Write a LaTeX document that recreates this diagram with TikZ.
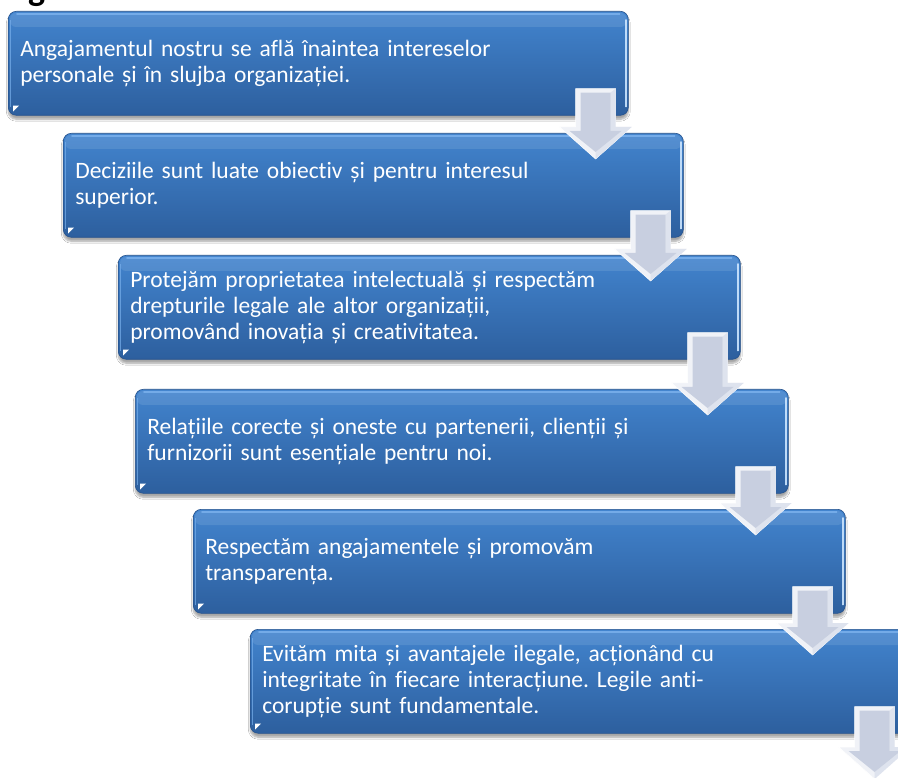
\documentclass[tikz,border=0pt]{standalone}
\usepackage{fontspec}
\setmainfont{Carlito}[Ligatures={NoCommon}]
\frenchspacing
\usetikzlibrary{calc,shadows.blur}
\definecolor{boxtop}{RGB}{66,132,206}
\definecolor{boxbot}{RGB}{45,95,158}
\definecolor{boxline}{RGB}{38,82,140}
\definecolor{gloss}{RGB}{120,175,235}
\definecolor{edgehi}{RGB}{205,230,255}
\definecolor{arrowout}{RGB}{240,242,247}
\definecolor{arrowin}{RGB}{198,206,223}
\definecolor{arrowside}{RGB}{222,227,238}
\tikzset{
  stepbox/.style={draw=boxline, line width=0.6pt, rounded corners=8pt,
    top color=boxtop, bottom color=boxbot, minimum height=104pt,
    inner xsep=12pt, inner ysep=0pt, align=left, anchor=north west,
    text=white, font=\fontsize{23.5}{26}\selectfont,
    blur shadow={shadow xshift=0pt, shadow yshift=-4pt, shadow blur steps=6, shadow opacity=35}},
  glossline/.style={gloss, line width=1.6pt, opacity=0.9, line cap=round},
  edgeline/.style={edgehi, line width=1.6pt, opacity=0.9, line cap=round},
  arrowouter/.style={fill=arrowout, draw=white, line width=0.5pt},
  arrowright/.style={fill=arrowside},
  arrowinner/.style={fill=arrowin, fill opacity=0.95},
}
\newcommand\boxgloss[1]{%
  \fill[white, opacity=0.10, rounded corners=6pt] ($(#1.north west)+(2,2)$) rectangle ($(#1.north east)+(-2,16)$);
  \draw[glossline] ($(#1.north west)+(9,3)$) -- ($(#1.north east)+(-9,3)$);
  \draw[edgeline] ($(#1.north east)+(-2.5,9)$) -- ($(#1.south east)+(-2.5,-9)$);
  \draw[gloss, line width=1pt, opacity=0.7] ($(#1.north west)+(2.5,9)$) -- ($(#1.south west)+(2.5,-9)$);
  \fill[white] ($(#1.south west)+(5,-10)$) -- ++(6,0) -- ++(-6,6) -- cycle;
}
\newcommand\flowarrow[2]{%
  \path[arrowouter] let \p1=($(#1)+(-33,0)$), \p2=(#2) in
    (\x1-20pt,\y1+27pt) -- (\x1+20pt,\y1+27pt) -- (\x1+20pt,\y2+6pt) -- (\x1+36pt,\y2+6pt)
    -- (\x1,\y2-26pt) -- (\x1-36pt,\y2+6pt) -- (\x1-20pt,\y2+6pt) -- cycle;
  \path[arrowright] let \p1=($(#1)+(-33,0)$), \p2=(#2) in
    (\x1+15pt,\y1+23pt) -- (\x1+20pt,\y1+27pt) -- (\x1+20pt,\y2+6pt) -- (\x1+36pt,\y2+6pt)
    -- (\x1,\y2-26pt) -- (\x1,\y2-19pt) -- (\x1+26pt,\y2+2pt) -- (\x1+15pt,\y2+2pt) -- cycle;
  \path[arrowinner] let \p1=($(#1)+(-33,0)$), \p2=(#2) in
    (\x1-15pt,\y1+23pt) -- (\x1+15pt,\y1+23pt) -- (\x1+15pt,\y2+2pt) -- (\x1+26pt,\y2+2pt)
    -- (\x1,\y2-19pt) -- (\x1-26pt,\y2+2pt) -- (\x1-15pt,\y2+2pt) -- cycle;
}
\begin{document}
\begin{tikzpicture}[x=1pt,y=-1pt]
\clip (0,0) rectangle (898,778);
\fill[white] (0,0) rectangle (898,778);
\node[anchor=base west, inner sep=0pt, text=black, font=\fontsize{36}{40}\selectfont\bfseries] (gtxt) at (28,1) {g};

\node[stepbox, text width=596pt] (b1) at (8,11)
  {Angajamentul nostru se află înaintea intereselor\\personale și în slujba organizației.};
\node[stepbox, text width=596pt] (b2) at (63,133)
  {Deciziile sunt luate obiectiv și pentru interesul\\superior.};
\node[stepbox, text width=598pt] (b3) at (118,255)
  {Protejăm proprietatea intelectuală și respectăm\\drepturile legale ale altor organizații,\\promovând inovația și creativitatea.};
\node[stepbox, text width=629pt] (b4) at (135,389)
  {Relațiile corecte și oneste cu partenerii, clienții și\\furnizorii sunt esențiale pentru noi.};
\node[stepbox, text width=628pt] (b5) at (193,509)
  {Respectăm angajamentele și promovăm\\transparența.};
\node[stepbox, text width=633pt] (b6) at (250,629)
  {Evităm mita și avantajele ilegale, acționând cu\\integritate în fiecare interacțiune. Legile anti-\\corupție sunt fundamentale.};
\coordinate (b7) at (907,753);

\boxgloss{b1}\boxgloss{b2}\boxgloss{b3}\boxgloss{b4}\boxgloss{b5}\boxgloss{b6}

\flowarrow{b1.south east}{b2.north}
\flowarrow{b2.south east}{b3.north}
\flowarrow{b3.south east}{b4.north}
\flowarrow{b4.south east}{b5.north}
\flowarrow{b5.south east}{b6.north}
\flowarrow{b6.south east}{b7}
\end{tikzpicture}
\end{document}
